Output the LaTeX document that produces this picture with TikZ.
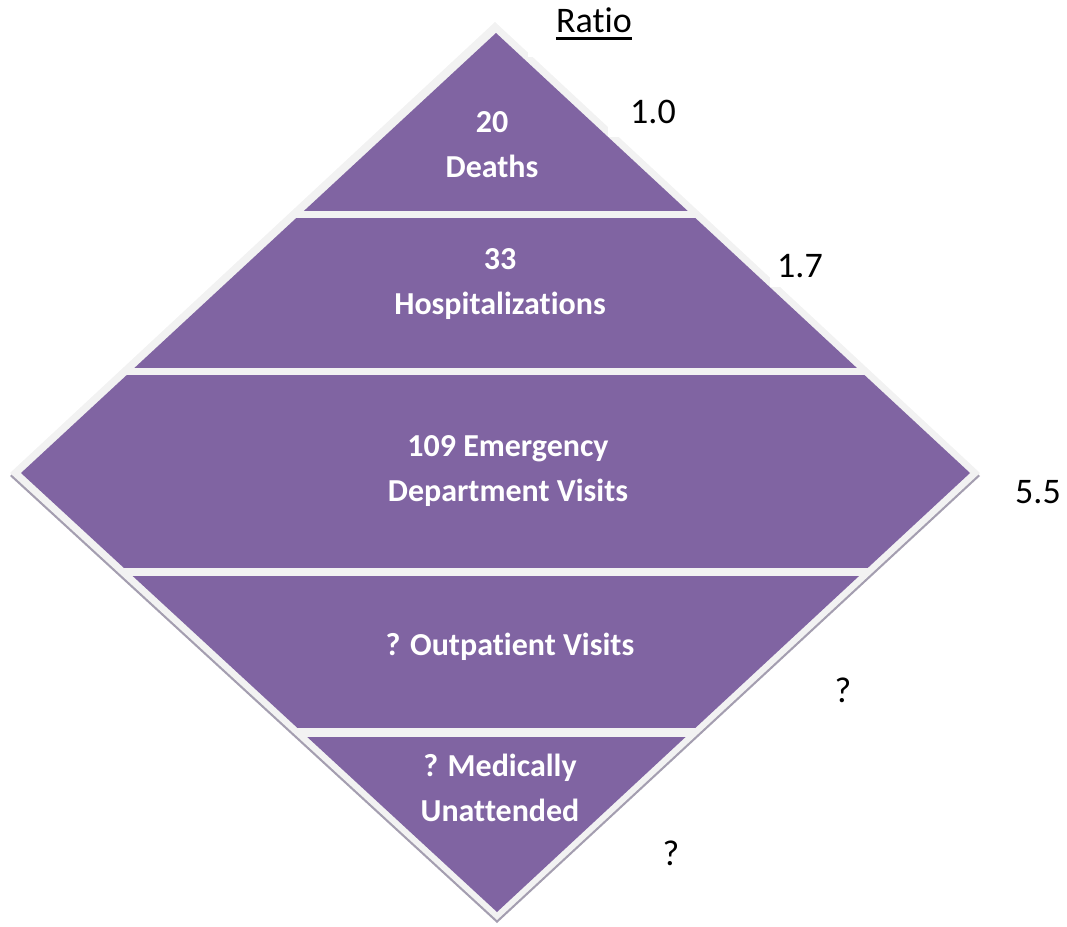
\documentclass[tikz,border=0pt]{standalone}
\usepackage{fontspec}
\setmainfont[Ligatures={NoCommon}]{Carlito}
\definecolor{bandpurple}{HTML}{8064A2}
\definecolor{rimgray}{HTML}{F2F2F2}
\definecolor{shadowgray}{HTML}{A49EB0}
\tikzset{
  bandtext/.style={text=white, font=\bfseries\fontsize{32}{45}\selectfont, align=center, inner sep=0pt},
  ratiotext/.style={text=black, font=\fontsize{36}{43}\selectfont, inner sep=0pt},
}
\begin{document}
\begin{tikzpicture}[x=1pt,y=-1pt]
\useasboundingbox (0,0) rectangle (1067,926);
% shadow and rim
\fill[shadowgray] (10,476) -- (495,25) -- (980,476) -- (497,923) -- cycle;
\fill[rimgray] (10,473) -- (495,22) -- (980,473) -- (497,920) -- cycle;
% white label boxes covering the rim
\fill[white] (528,0) rectangle (660,57);
\fill[white] (608,85) rectangle (700,137);
\fill[white] (770,240) rectangle (840,287);
% purple bands
\begin{scope}
\clip (21,473) -- (496,33) -- (970,473) -- (497,912) -- cycle;
\fill[bandpurple] (0,30) rectangle (1067,211);
\fill[bandpurple] (0,218) rectangle (1067,368);
\fill[bandpurple] (0,375) rectangle (1067,568);
\fill[bandpurple] (0,576) rectangle (1067,728);
\fill[bandpurple] (0,737) rectangle (1067,915);
\end{scope}
% band texts
\node[bandtext] (deaths) at (492,145) {20\\Deaths};
\node[bandtext] (hosp) at (500,284) {33\\Hospitalizations};
\node[bandtext] (ed) at (508,471) {109 Emergency\\Department Visits};
\node[bandtext] (outp) at (510,647) {? Outpatient Visits};
\node[bandtext] (unatt) at (500,788) {? Medically\\Unattended};
% ratios
\node[ratiotext] (ratio) at (594,20) {Ratio};
\draw[line width=2.5pt] ([yshift=-6pt]ratio.south west) -- ([yshift=-6pt]ratio.south east);
\node[ratiotext] (r1) at (653,112) {1.0};
\node[ratiotext] (r2) at (800,266) {1.7};
\node[ratiotext] (r3) at (1038,492) {5.5};
\node[ratiotext] (r4) at (843,690) {?};
\node[ratiotext] (r5) at (671,853) {?};
\end{tikzpicture}
\end{document}
